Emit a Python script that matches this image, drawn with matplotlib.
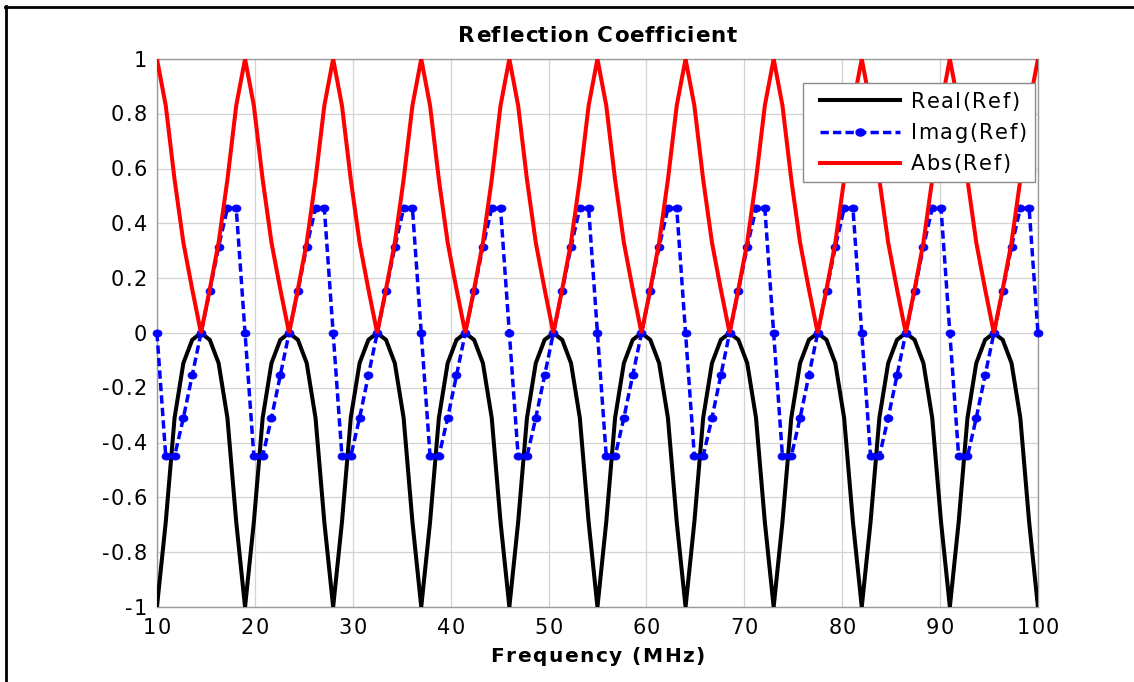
import numpy as np
import matplotlib
matplotlib.use("Agg")
import matplotlib.pyplot as plt
import matplotlib.transforms as mtransforms
from matplotlib.font_manager import FontProperties, findfont, get_font
from matplotlib.lines import Line2D
from matplotlib.patches import Rectangle
from matplotlib.path import Path

FONT = "DejaVu Sans"
plt.rcParams["font.family"] = [FONT]
plt.rcParams["lines.scale_dashes"] = False

# ---------------------------------------------------------------- data
# frequency sweep: 101 points from 10 to 100 MHz
freq_mhz = np.linspace(10.0, 100.0, 101)

real_ref = [
    -1.00, -0.69, -0.31, -0.11, -0.025, 0.00, -0.025, -0.11, -0.31, -0.69,
    -1.00, -0.69, -0.31, -0.11, -0.025, 0.00, -0.025, -0.11, -0.31, -0.69,
    -1.00, -0.69, -0.31, -0.11, -0.025, 0.00, -0.025, -0.11, -0.31, -0.69,
    -1.00, -0.69, -0.31, -0.11, -0.025, 0.00, -0.025, -0.11, -0.31, -0.69,
    -1.00, -0.69, -0.31, -0.11, -0.025, 0.00, -0.025, -0.11, -0.31, -0.69,
    -1.00, -0.69, -0.31, -0.11, -0.025, 0.00, -0.025, -0.11, -0.31, -0.69,
    -1.00, -0.69, -0.31, -0.11, -0.025, 0.00, -0.025, -0.11, -0.31, -0.69,
    -1.00, -0.69, -0.31, -0.11, -0.025, 0.00, -0.025, -0.11, -0.31, -0.69,
    -1.00, -0.69, -0.31, -0.11, -0.025, 0.00, -0.025, -0.11, -0.31, -0.69,
    -1.00, -0.69, -0.31, -0.11, -0.025, 0.00, -0.025, -0.11, -0.31, -0.69,
    -1.00,
]

imag_ref = [
    0.00, -0.45, -0.45, -0.31, -0.155, 0.00, 0.155, 0.315, 0.455, 0.455,
    0.00, -0.45, -0.45, -0.31, -0.155, 0.00, 0.155, 0.315, 0.455, 0.455,
    0.00, -0.45, -0.45, -0.31, -0.155, 0.00, 0.155, 0.315, 0.455, 0.455,
    0.00, -0.45, -0.45, -0.31, -0.155, 0.00, 0.155, 0.315, 0.455, 0.455,
    0.00, -0.45, -0.45, -0.31, -0.155, 0.00, 0.155, 0.315, 0.455, 0.455,
    0.00, -0.45, -0.45, -0.31, -0.155, 0.00, 0.155, 0.315, 0.455, 0.455,
    0.00, -0.45, -0.45, -0.31, -0.155, 0.00, 0.155, 0.315, 0.455, 0.455,
    0.00, -0.45, -0.45, -0.31, -0.155, 0.00, 0.155, 0.315, 0.455, 0.455,
    0.00, -0.45, -0.45, -0.31, -0.155, 0.00, 0.155, 0.315, 0.455, 0.455,
    0.00, -0.45, -0.45, -0.31, -0.155, 0.00, 0.155, 0.315, 0.455, 0.455,
    0.00,
]

abs_ref = [
    1.00, 0.83, 0.56, 0.33, 0.16, 0.00, 0.16, 0.33, 0.56, 0.83,
    1.00, 0.83, 0.56, 0.33, 0.16, 0.00, 0.16, 0.33, 0.56, 0.83,
    1.00, 0.83, 0.56, 0.33, 0.16, 0.00, 0.16, 0.33, 0.56, 0.83,
    1.00, 0.83, 0.56, 0.33, 0.16, 0.00, 0.16, 0.33, 0.56, 0.83,
    1.00, 0.83, 0.56, 0.33, 0.16, 0.00, 0.16, 0.33, 0.56, 0.83,
    1.00, 0.83, 0.56, 0.33, 0.16, 0.00, 0.16, 0.33, 0.56, 0.83,
    1.00, 0.83, 0.56, 0.33, 0.16, 0.00, 0.16, 0.33, 0.56, 0.83,
    1.00, 0.83, 0.56, 0.33, 0.16, 0.00, 0.16, 0.33, 0.56, 0.83,
    1.00, 0.83, 0.56, 0.33, 0.16, 0.00, 0.16, 0.33, 0.56, 0.83,
    1.00, 0.83, 0.56, 0.33, 0.16, 0.00, 0.16, 0.33, 0.56, 0.83,
    1.00,
]

x_ticks = [10, 20, 30, 40, 50, 60, 70, 80, 90, 100]
x_tick_labels = ["10", "20", "30", "40", "50", "60", "70", "80", "90", "100"]
y_ticks = [-1.0, -0.8, -0.6, -0.4, -0.2, 0.0, 0.2, 0.4, 0.6, 0.8, 1.0]
y_tick_labels = ["-1", "-0.8", "-0.6", "-0.4", "-0.2", "0",
                 "0.2", "0.4", "0.6", "0.8", "1"]
series_names = ["Real(Ref)", "Imag(Ref)", "Abs(Ref)"]
title_text = "Reflection Coefficient"
xlabel_text = "Frequency (MHz)"


# ---------------------------------------------------------------- helpers
def char_advances(text, size, weight):
    fp = FontProperties(family=FONT, size=size, weight=weight)
    font = get_font(findfont(fp))
    font.set_size(size, 72)
    return [font.load_char(ord(c)).linearHoriAdvance / 65536.0 for c in text]


def spaced_text(fig, x, y, text, transform, size, weight="normal",
                track=1.0, ha="center", dx=0.0, dy=0.0, color="black"):
    """Draw text with a little extra letter spacing (offsets in points)."""
    adv = char_advances(text, size, weight)
    total = sum(adv) + track * (len(text) - 1)
    if ha == "center":
        pos = -total / 2.0
    elif ha == "right":
        pos = -total
    else:
        pos = 0.0
    for c, a in zip(text, adv):
        if c != " ":
            tr = mtransforms.offset_copy(transform, fig=fig, x=dx + pos,
                                         y=dy, units="points")
            fig.text(x, y, c, transform=tr, fontsize=size, fontweight=weight,
                     family=FONT, ha="left", va="baseline", color=color)
        pos += a + track


# slightly wide elliptical dot marker
_t = np.linspace(0, 2 * np.pi, 41)
dot_marker = Path(np.column_stack([1.25 * np.cos(_t), np.sin(_t)]))
DOT_SIZE = 6.4

# ---------------------------------------------------------------- figure
fig = plt.figure(figsize=(11.34, 6.82), dpi=100)
ax = fig.add_axes([0.1384, 0.1100, 0.7769, 0.8035])

ax.plot(freq_mhz, real_ref, color="black", lw=2.9, solid_joinstyle="miter",
        zorder=3)
ax.plot(freq_mhz, imag_ref, color="blue", lw=2.5, linestyle=(0, (6.0, 3.0)),
        marker=dot_marker, markersize=DOT_SIZE, markerfacecolor="blue",
        markeredgecolor="blue", markeredgewidth=0.6, clip_on=False, zorder=4)
ax.plot(freq_mhz, abs_ref, color="red", lw=2.9, solid_joinstyle="miter",
        zorder=5)

ax.set_xlim(10, 100)
ax.set_ylim(-1, 1)
ax.set_xticks(x_ticks)
ax.set_yticks(y_ticks)
ax.tick_params(length=0, labelleft=False, labelbottom=False)
ax.grid(True, color="#d3d3d3", lw=0.9)
ax.set_axisbelow(True)
for sp in ax.spines.values():
    sp.set_color("#9a9a9a")
    sp.set_linewidth(1.0)

# tick labels
TICK_SIZE = 15
cap = 0.729 * TICK_SIZE
ytr = mtransforms.blended_transform_factory(ax.transAxes, ax.transData)
for v, lab in zip(y_ticks, y_tick_labels):
    spaced_text(fig, 0.0, v, lab, ytr, TICK_SIZE, track=1.0, ha="right",
                dx=-7.2, dy=-cap / 2.0)
xtr = mtransforms.blended_transform_factory(ax.transData, ax.transAxes)
for v, lab in zip(x_ticks, x_tick_labels):
    spaced_text(fig, v, 0.0, lab, xtr, TICK_SIZE, track=1.0, ha="center",
                dy=-19.6)

# title and axis label
spaced_text(fig, 0.5, 1.0, title_text, ax.transAxes, 15.5, weight="bold",
            track=0.55, ha="center", dy=12.4)
spaced_text(fig, 0.5, 0.0, xlabel_text, ax.transAxes, 14.5, weight="bold",
            track=1.1, ha="center", dy=-39.8)

# legend
ax.add_patch(Rectangle((0.7333, 0.7755), 0.2633, 0.1807,
                       transform=ax.transAxes, facecolor="white",
                       edgecolor="#8a8a8a", lw=1.0, zorder=10, clip_on=False))
rows = [0.9252, 0.8673, 0.8108]
lx0, lx1 = 0.7526, 0.8434
ax.add_line(Line2D([lx0, lx1], [rows[0], rows[0]], transform=ax.transAxes,
                   color="black", lw=2.9, zorder=11))
ax.add_line(Line2D([lx0, lx1], [rows[1], rows[1]], transform=ax.transAxes,
                   color="blue", lw=2.5, linestyle=(0, (6.0, 3.0)), zorder=11))
ax.add_line(Line2D([(lx0 + lx1) / 2.0], [rows[1]], transform=ax.transAxes,
                   color="blue", marker=dot_marker, markersize=DOT_SIZE,
                   zorder=12))
ax.add_line(Line2D([lx0, lx1], [rows[2], rows[2]], transform=ax.transAxes,
                   color="red", lw=2.9, zorder=11))
for r, name in zip(rows, series_names):
    spaced_text(fig, 0.8555, r, name, ax.transAxes, TICK_SIZE, track=1.1,
                ha="left", dy=-cap / 2.0)

# outer frame (left and top edges)
fig.add_artist(Line2D([5.0 / 1134, 1.0], [1 - 7.4 / 682, 1 - 7.4 / 682],
                      transform=fig.transFigure, color="black", lw=2.0))
fig.add_artist(Line2D([6.2 / 1134, 6.2 / 1134], [0.0, 1 - 6.4 / 682],
                      transform=fig.transFigure, color="black", lw=2.0))

fig.savefig("out.png", dpi=100)
